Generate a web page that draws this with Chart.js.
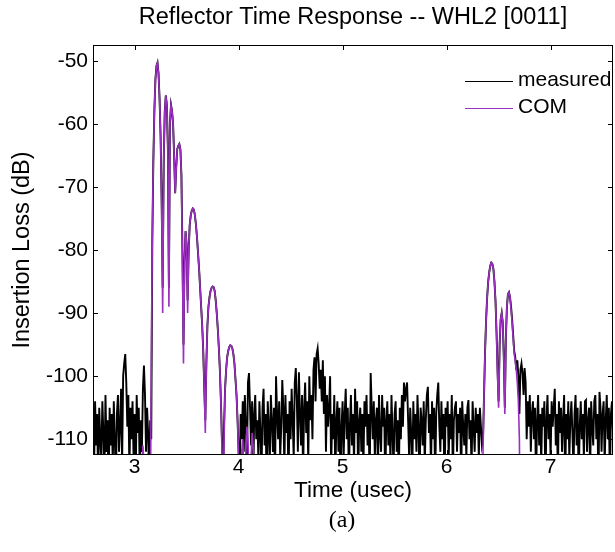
<!DOCTYPE html>
<html>
<head>
<meta charset="utf-8">
<title>Reflector Time Response -- WHL2 [0011]</title>
<script src="https://cdn.jsdelivr.net/npm/chart.js@4.4.1/dist/chart.umd.min.js"></script>
<style>
  body { margin: 0; background: #fff; }
  #wrap { width: 615px; height: 552px; }
</style>
</head>
<body>
<div id="wrap"><canvas id="timeResponse"></canvas></div>
<script>
// measured trace, one value every 10 ns starting at 2.60 usec
const measuredStart = 2.60;
const measuredStep = 0.01;
const measuredDb = [
  -108, -115, -104, -111, -106, -118, -105, -110, -113, -104, // 2.6
  -109, -116, -103, -112, -107, -119, -105, -111, -106, -114, // 2.7
  -104, -110, -117, -106, -103, -112, -108, -102, -114, -100, // 2.8
  -98, -96.5, -101, -108, -103, -115, -105, -110, -104, -113, // 2.9
  -106, -118, -103, -109, -105, -116, -107, -112, -102, -98.3, // 3.0
  -103, -112, -105, -109, -117, -107, -110, -79, -66, -58, // 3.1
  -53, -50.8, -50.3, -52, -56, -62, -72, -86, -66, -58, // 3.2
  -55.5, -57, -64, -86, -60, -57, -58, -60, -65, -71, // 3.3
  -67, -64, -63.5, -63.2, -64, -68, -80, -95, -82, -77, // 3.4
  -79, -88, -80, -76, -74.5, -73.7, -73.4, -73.6, -74.5, -76, // 3.5
  -78, -80.5, -83, -86, -89, -92, -96, -102, -107, -98, // 3.6
  -92, -89, -87.5, -86.5, -86, -85.8, -85.9, -86.5, -88, -90, // 3.7
  -92.5, -95.5, -99, -104, -110, -117, -108, -102, -99, -97, // 3.8
  -96, -95.4, -95.1, -95.2, -95.6, -96.5, -98, -100.5, -103, -107, // 3.9
  -112, -116, -106, -110, -104, -112, -103, -108, -115, -101, // 4.0
  -99.5, -105, -111, -104, -118, -106, -103, -110, -107, -113, // 4.1
  -104, -109, -116, -105, -102, -111, -106, -119, -104, -108, // 4.2
  -114, -103, -107, -112, -105, -117, -100, -106, -110, -104, // 4.3
  -113, -108, -100.6, -105, -115, -103, -109, -106, -118, -104, // 4.4
  -110, -102, -107, -113, -101, -98.7, -104, -112, -99.4, -106, // 4.5
  -111, -103, -116, -105, -101, -109, -104, -114, -100, -107, // 4.6
  -103, -110, -99, -97, -104, -96.5, -95.6, -98, -102, -99, // 4.7
  -104, -97.5, -106, -100, -112, -103, -108, -105, -100, -115, // 4.8
  -106, -110, -103, -117, -107, -104, -112, -105, -119, -108, // 4.9
  -104, -113, -106, -102, -110, -105, -116, -108, -103, -111, // 5.0
  -106, -114, -102, -109, -104, -117, -107, -105, -112, -106, // 5.1
  -115, -104, -108, -103, -111, -106, -118, -99.5, -105, -110, // 5.2
  -104, -113, -107, -105, -116, -103, -109, -112, -103, -108, // 5.3
  -105, -118, -107, -104, -111, -106, -114, -103, -109, -115, // 5.4
  -106, -104, -112, -107, -117, -105, -110, -103, -108, -101, // 5.5
  -104, -102, -101, -107, -113, -105, -109, -116, -104, -110, // 5.6
  -106, -112, -103, -108, -118, -105, -107, -111, -104, -114, // 5.7
  -107, -103, -101.7, -109, -106, -115, -104, -110, -105, -117, // 5.8
  -106, -103, -101, -108, -112, -104, -110, -106, -119, -105, // 5.9
  -108, -104, -113, -106, -110, -103, -116, -107, -105, -104, // 6.0
  -112, -106, -109, -105, -117, -104, -108, -111, -106, -113, // 6.1
  -105, -103.8, -110, -107, -115, -104, -108, -112, -105, -109, // 6.2
  -106, -113, -105, -108, -111, -110, -103, -96, -91, -87.5, // 6.3
  -85, -83.5, -82.5, -82, -82.2, -83, -85, -88, -93, -99, // 6.4
  -104, -95, -91, -90, -91.5, -97, -105, -94, -89, -87, // 6.5
  -86.7, -87.5, -89, -91, -93.5, -96, -97, -99, -97.5, -100, // 6.6
  -106, -99, -98, -99.5, -103, -98.7, -101, -110, -104, -108, // 6.7
  -103, -112, -106, -104, -110, -105, -117, -107, -103, -111, // 6.8
  -106, -114, -105, -108, -104, -118, -107, -103, -110, -106, // 6.9
  -113, -104, -108, -105, -102, -111, -106, -116, -104, -109, // 7.0
  -105, -112, -107, -103, -118, -106, -110, -104, -113, -107, // 7.1
  -104, -109, -115, -106, -103, -111, -105, -117, -108, -104, // 7.2
  -110, -106, -113, -104, -103.8, -112, -107, -105, -116, -104, // 7.3
  -108, -111, -104, -103, -110, -106, -118, -102.5, -105, -112, // 7.4
  -106, -104, -114, -107, -103, -110, -105, -117, -106, -104, // 7.5
  -109
];

// COM model, only where it rises above the axis floor
const comStep = 0.01;
const comMainStart = 3.06;
const comMainDb = [
  -130, -118, -111, -114,
  -124, -130, -130, -130, -130, -125, -100, -78, -66, -58,
  -53, -50.8, -50.3, -52, -56, -62, -73, -90, -66, -58,
  -55.5, -57, -64, -89, -60, -57, -58, -60, -65, -71,
  -67, -64, -63.5, -63.2, -64, -68, -82, -98, -82, -77,
  -79, -90, -80, -76, -74.5, -73.7, -73.4, -73.6, -74.5, -76,
  -78, -80.5, -83, -86, -89, -92, -96, -102, -109, -98,
  -92, -89, -87.5, -86.5, -86, -85.8, -85.9, -86.5, -88, -90,
  -92.5, -95.5, -99, -104, -112, -130, -110, -102, -99, -97,
  -96, -95.4, -95.1, -95.2, -95.6, -96.5, -98, -100.5, -103, -107,
  -113, -130, -118, -112, -110, -115, -125, -112, -108, -110,
  -117, -124, -113, -109, -111, -119, -130, -120, -130, -130
];
const comSecondStart = 6.30;
const comSecondDb = [
  -130, -125, -118, -122, -130, -112, -103, -96, -91, -87.5,
  -85, -83.5, -82.5, -82, -82.2, -83, -85, -88, -93, -100,
  -105, -95, -91, -90, -91.5, -97, -106, -94, -89, -87,
  -86.7, -87.5, -89.5, -91.5, -94, -96.5, -97.5, -99, -101, -104,
  -110, -130, -125, -118, -121, -130
];

const xTicks = [3, 4, 5, 6, 7];
const yTicks = [-110, -100, -90, -80, -70, -60, -50];

const seriesLabels = ['measured', 'COM'];
const seriesColors = ['#000000', '#9a2fc0'];

const sans = "'Liberation Sans', Arial, sans-serif";

function toPoints(start, step, values) {
  return values.map((v, i) => ({ x: +(start + i * step).toFixed(2), y: v }));
}

const measuredPoints = toPoints(measuredStart, measuredStep, measuredDb);
const comPoints = toPoints(comMainStart, comStep, comMainDb)
  .concat([{ x: 5, y: null }])
  .concat(toPoints(comSecondStart, comStep, comSecondDb));

// MATLAB style box, inward ticks, legend inside the axes and the caption
const matlabFrame = {
  id: 'matlabFrame',
  afterDraw(chart) {
    const { ctx, chartArea, scales } = chart;
    const { left, right, top, bottom } = chartArea;
    ctx.save();
    ctx.strokeStyle = '#000';
    ctx.lineWidth = 1;
    ctx.strokeRect(left + 0.5, top + 0.5, right - left - 1, bottom - top - 1);

    ctx.beginPath();
    xTicks.forEach((v) => {
      const px = Math.round(scales.x.getPixelForValue(v)) + 0.5;
      ctx.moveTo(px, bottom); ctx.lineTo(px, bottom - 5);
      ctx.moveTo(px, top); ctx.lineTo(px, top + 5);
    });
    yTicks.forEach((v) => {
      const py = Math.round(scales.y.getPixelForValue(v)) + 0.5;
      ctx.moveTo(left, py); ctx.lineTo(left + 5, py);
      ctx.moveTo(right, py); ctx.lineTo(right - 5, py);
    });
    ctx.stroke();

    // legend
    ctx.font = '21px ' + sans;
    ctx.textBaseline = 'middle';
    ctx.textAlign = 'left';
    seriesLabels.forEach((label, i) => {
      const y = 81 + i * 27;
      ctx.strokeStyle = seriesColors[i];
      ctx.beginPath();
      ctx.moveTo(465, y + 0.5);
      ctx.lineTo(513, y + 0.5);
      ctx.stroke();
      ctx.fillStyle = '#000';
      ctx.fillText(label, 518, y - 1);
    });

    // figure caption
    ctx.font = "24px 'Liberation Serif', 'Times New Roman', serif";
    ctx.textAlign = 'center';
    ctx.fillText('(a)', 342, 521);
    ctx.restore();
  }
};

const ctx = document.getElementById('timeResponse');
new Chart(ctx, {
  type: 'line',
  data: {
    datasets: [
      {
        label: seriesLabels[0],
        data: measuredPoints,
        borderColor: seriesColors[0],
        borderWidth: 1.9,
        pointRadius: 0,
        tension: 0,
        order: 2,
      },
      {
        label: seriesLabels[1],
        data: comPoints,
        borderColor: seriesColors[1],
        borderWidth: 1.6,
        pointRadius: 0,
        tension: 0,
        spanGaps: false,
        order: 1,
      },
    ],
  },
  options: {
    responsive: true,
    maintainAspectRatio: false,
    animation: false,
    layout: { padding: { left: 0, right: 2, top: 0, bottom: 42 } },
    plugins: {
      legend: { display: false },
      tooltip: { enabled: false },
      title: {
        display: true,
        fullSize: false,
        text: 'Reflector Time Response -- WHL2 [0011]',
        color: '#000',
        font: { family: sans, size: 23.5, weight: 'normal' },
        padding: { top: 3, bottom: 13.8 },
      },
    },
    scales: {
      x: {
        type: 'linear',
        min: 2.6,
        max: 7.6,
        grid: { display: false, drawTicks: false },
        border: { display: false },
        afterFit: (scale) => { scale.height = 55; },
        afterBuildTicks: (scale) => { scale.ticks = xTicks.map((v) => ({ value: v })); },
        ticks: { color: '#000', padding: 0, font: { family: sans, size: 21 } },
        title: {
          display: true,
          text: 'Time (usec)',
          color: '#000',
          font: { family: sans, size: 22.5 },
          padding: { top: 0, bottom: 6 },
        },
      },
      y: {
        min: -112.5,
        max: -47.5,
        grid: { display: false, drawTicks: false },
        border: { display: false },
        afterFit: (scale) => { scale.width = 93; },
        afterBuildTicks: (scale) => { scale.ticks = yTicks.map((v) => ({ value: v })); },
        ticks: { color: '#000', padding: 5, font: { family: sans, size: 21 } },
        title: {
          display: true,
          text: 'Insertion Loss (dB)',
          color: '#000',
          font: { family: sans, size: 23.5 },
          padding: { top: 8, bottom: 0 },
        },
      },
    },
  },
  plugins: [matlabFrame],
});
</script>
</body>
</html>
